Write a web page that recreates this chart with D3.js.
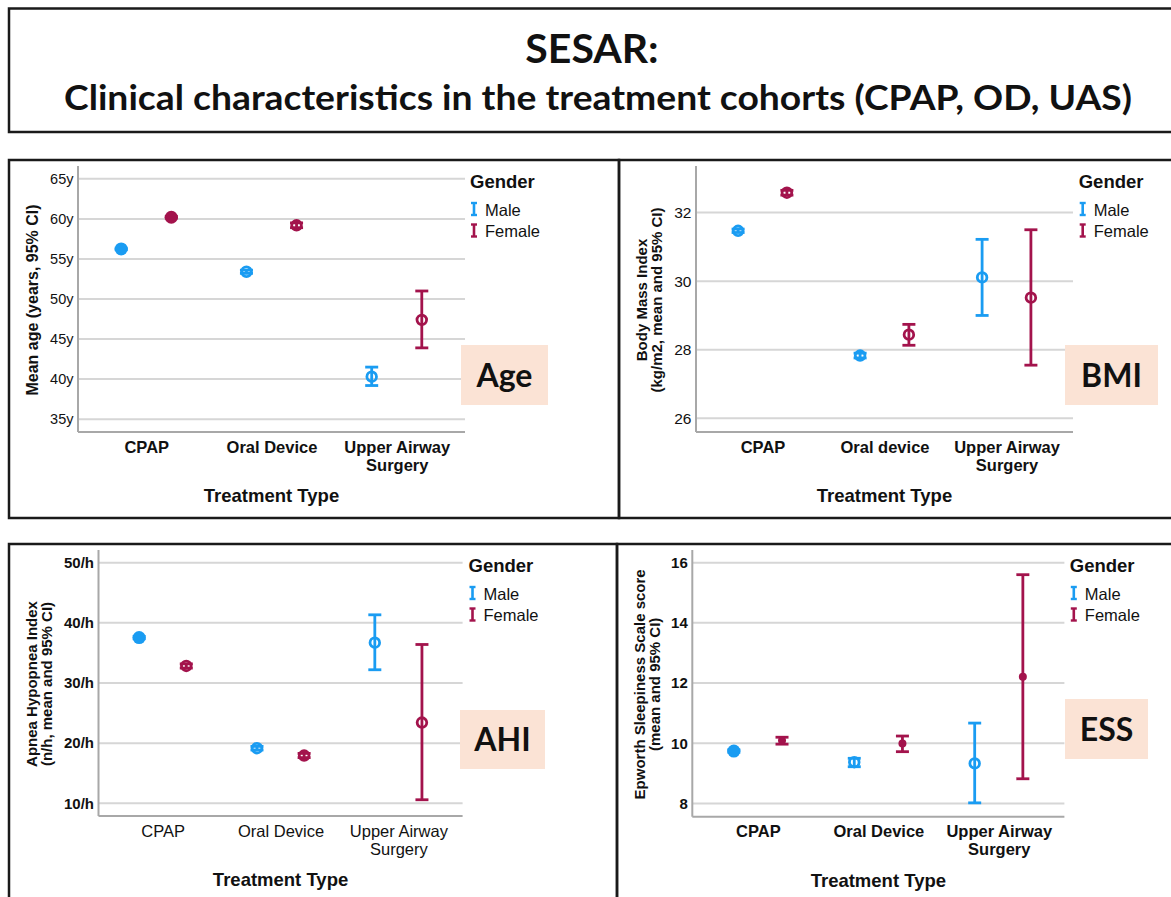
<!DOCTYPE html>
<html>
<head>
<meta charset="utf-8">
<script src="https://cdn.jsdelivr.net/npm/d3@7"></script>
<style>
  body { margin: 0; background: #fff; }
  svg { display: block; }
  .spss { font-family: "Liberation Sans", Arial, sans-serif; fill: #111; }
  .slide { font-family: Lato, "Open Sans", sans-serif; font-weight: bold; fill: #111; }
</style>
</head>
<body>
<div id="chart"></div>
<script>
  // Categories and tick labels
  var treatments = ["CPAP", "Oral Device", "Upper Airway Surgery"];
  var treatmentsBmi = ["CPAP", "Oral device", "Upper Airway Surgery"];
  var genders = ["Male", "Female"];

  var ageTicks = [35, 40, 45, 50, 55, 60, 65];
  var bmiTicks = [26, 28, 30, 32];
  var ahiTicks = [10, 20, 30, 40, 50];
  var essTicks = [8, 10, 12, 14, 16];

  // Age (years): mean, lower and upper 95% CI
  var ageMale     = [56.25, 53.4, 40.3];
  var ageMaleLo   = [56.15, 53.2, 39.2];
  var ageMaleHi   = [56.35, 53.6, 41.5];
  var ageFemale   = [60.2, 59.2, 47.4];
  var ageFemaleLo = [60.1, 58.9, 43.9];
  var ageFemaleHi = [60.3, 59.5, 51.0];

  // BMI (kg/m2)
  var bmiMale     = [31.47, 27.83, 30.11];
  var bmiMaleLo   = [31.42, 27.76, 29.0];
  var bmiMaleHi   = [31.52, 27.90, 31.22];
  var bmiFemale   = [32.58, 28.44, 29.52];
  var bmiFemaleLo = [32.51, 28.13, 27.55];
  var bmiFemaleHi = [32.65, 28.74, 31.5];

  // AHI (n/h)
  var ahiMale     = [37.55, 19.17, 36.7];
  var ahiMaleLo   = [37.35, 18.87, 32.2];
  var ahiMaleHi   = [37.75, 19.47, 41.33];
  var ahiFemale   = [32.83, 17.95, 23.43];
  var ahiFemaleLo = [32.48, 17.6, 10.6];
  var ahiFemaleHi = [33.18, 18.3, 36.4];

  // ESS score
  var essMale     = [9.74, 9.37, 9.33];
  var essMaleLo   = [9.7, 9.22, 8.02];
  var essMaleHi   = [9.78, 9.5, 10.67];
  var essFemale   = [10.09, 9.99, 12.21];
  var essFemaleLo = [9.97, 9.72, 8.82];
  var essFemaleHi = [10.2, 10.24, 15.6];

  var colors = {Male: "#1a9cf2", Female: "#a3134c"};

  var svg = d3.select("#chart").append("svg")
    .attr("width", 1171)
    .attr("height", 897);

  // Title box
  svg.append("rect")
    .attr("x", 9).attr("y", 8.5).attr("width", 1200).attr("height", 123.5)
    .attr("fill", "none").attr("stroke", "#1a1a1a").attr("stroke-width", 2.5);

  svg.append("text").attr("class", "slide")
    .attr("x", 592).attr("y", 63)
    .attr("text-anchor", "middle")
    .style("font-size", "41px")
    .text("SESAR:");

  svg.append("text").attr("class", "slide")
    .attr("x", 598).attr("y", 110)
    .attr("text-anchor", "middle")
    .attr("textLength", 1068).attr("lengthAdjust", "spacingAndGlyphs")
    .style("font-size", "34px")
    .text("Clinical characteristics in the treatment cohorts (CPAP, OD, UAS)");

  var panels = [
    {label: "Age", cats: treatments, ticks: ageTicks, fmt: function(d) { return d + "y"; },
     domain: [33.4, 66.6], frame: [9, 160, 610, 358], plot: [78, 465, 166, 432],
     yTitle: ["Mean age (years, 95% CI)"], yTitleX: [32], yTitleSize: 16, tickBold: false, tickSize: 14.5, xBold: true,
     legend: [470, 182], box: [461, 345, 87, 60], femaleDot: false,
     series: [[ageMale, ageMaleLo, ageMaleHi], [ageFemale, ageFemaleLo, ageFemaleHi]]},
    {label: "BMI", cats: treatmentsBmi, ticks: bmiTicks, fmt: function(d) { return d; },
     domain: [25.6, 33.36], frame: [619, 160, 600, 358], plot: [696, 1073, 166, 432],
     yTitle: ["Body Mass Index", "(kg/m2, mean and 95% CI)"], yTitleX: [642, 656.5], yTitleSize: 15, tickBold: false, tickSize: 15.5, xBold: true,
     legend: [1078.7, 182], box: [1065, 345, 93, 60], femaleDot: false,
     series: [[bmiMale, bmiMaleLo, bmiMaleHi], [bmiFemale, bmiFemaleLo, bmiFemaleHi]]},
    {label: "AHI", cats: treatments, ticks: ahiTicks, fmt: function(d) { return d + "/h"; },
     domain: [7.9, 52.1], frame: [9, 544, 608, 400], plot: [98.5, 462.6, 550, 816],
     yTitle: ["Apnea Hypopnea Index", "(n/h, mean and 95% CI)"], yTitleX: [31.6, 46.7], yTitleSize: 15, tickBold: true, tickSize: 15, xBold: false,
     legend: [468.5, 566], box: [460, 710, 85, 59], femaleDot: false,
     series: [[ahiMale, ahiMaleLo, ahiMaleHi], [ahiFemale, ahiFemaleLo, ahiFemaleHi]]},
    {label: "ESS", cats: treatments, ticks: essTicks, fmt: function(d) { return d; },
     domain: [7.56, 16.42], frame: [617, 544, 600, 400], plot: [692.3, 1064.4, 550, 816.7],
     yTitle: ["Epworth Sleepiness Scale score", "(mean and 95% CI)"], yTitleX: [639.3, 654.7], yTitleSize: 15, tickBold: true, tickSize: 15, xBold: true,
     legend: [1069.8, 566], box: [1065, 699, 83, 60], femaleDot: true,
     series: [[essMale, essMaleLo, essMaleHi], [essFemale, essFemaleLo, essFemaleHi]]}
  ];

  panels.forEach(drawPanel);

  function drawPanel(p) {
    var g = svg.append("g");
    var x0 = p.plot[0], x1 = p.plot[1], yTop = p.plot[2], yBottom = p.plot[3];

    // Panel frame
    g.append("rect")
      .attr("x", p.frame[0]).attr("y", p.frame[1])
      .attr("width", p.frame[2]).attr("height", p.frame[3])
      .attr("fill", "none").attr("stroke", "#1a1a1a").attr("stroke-width", 2.5);

    var x = d3.scalePoint().domain(p.cats).range([x0, x1]).padding(0.545);
    var y = d3.scaleLinear().domain(p.domain).range([yBottom, yTop]);
    var off = x.step() * 0.2;

    // Gridlines
    g.selectAll(".grid").data(p.ticks).enter().append("line")
      .attr("x1", x0).attr("x2", x1)
      .attr("y1", function(d) { return y(d); }).attr("y2", function(d) { return y(d); })
      .attr("stroke", "#d6d6d6").attr("stroke-width", 2);

    // Axis lines
    g.append("line").attr("x1", x0).attr("x2", x0).attr("y1", yTop).attr("y2", yBottom)
      .attr("stroke", "#a8a8a8").attr("stroke-width", 2);
    g.append("line").attr("x1", x0).attr("x2", x1).attr("y1", yBottom).attr("y2", yBottom)
      .attr("stroke", "#a8a8a8").attr("stroke-width", 2);

    // Y tick labels
    var yAxis = g.append("g").attr("class", "spss")
      .attr("transform", "translate(" + x0 + ",0)")
      .call(d3.axisLeft(y).tickValues(p.ticks).tickSize(0).tickPadding(4.5).tickFormat(p.fmt));
    yAxis.select(".domain").remove();
    yAxis.selectAll("text")
      .attr("fill", "#111")
      .style("font-family", "'Liberation Sans', Arial, sans-serif")
      .style("font-size", p.tickSize + "px")
      .style("font-weight", p.tickBold ? "bold" : "normal");

    // X tick labels (wrap the long one)
    var xAxis = g.append("g")
      .attr("transform", "translate(0," + yBottom + ")")
      .call(d3.axisBottom(x).tickSize(0).tickPadding(0));
    xAxis.select(".domain").remove();
    xAxis.selectAll("text").each(function(d) {
      var lines = d.indexOf("Upper Airway") === 0 ? ["Upper Airway", "Surgery"] : [d];
      var t = d3.select(this).text(null).attr("y", 0).attr("dy", null)
        .attr("fill", "#111")
        .style("font-family", "'Liberation Sans', Arial, sans-serif")
        .style("font-size", "16.5px")
        .style("font-weight", p.xBold ? "bold" : "normal");
      lines.forEach(function(l, i) {
        t.append("tspan").attr("x", 0).attr("y", 15 + i * 18).attr("dy", "0.35em").text(l);
      });
    });

    // X axis title
    g.append("text").attr("class", "spss")
      .attr("x", (x(p.cats[1]))).attr("y", yBottom + 64).attr("dy", "0.35em")
      .attr("text-anchor", "middle")
      .style("font-size", "18.5px").style("font-weight", "bold")
      .text("Treatment Type");

    // Y axis title
    var yMid = (yTop + yBottom) / 2 + 1;
    p.yTitle.forEach(function(line, i) {
      g.append("text").attr("class", "spss")
        .attr("transform", "translate(" + p.yTitleX[i] + "," + yMid + ") rotate(-90)")
        .attr("dy", "0.35em")
        .attr("text-anchor", "middle")
        .style("font-size", p.yTitleSize + "px").style("font-weight", "bold")
        .text(line);
    });

    // Error bars with means
    genders.forEach(function(gender, gi) {
      var s = p.series[gi];
      var rows = p.cats.map(function(c, i) {
        return {cat: c, mean: s[0][i], lo: s[1][i], hi: s[2][i]};
      });
      var dx = gi === 0 ? -off : off;
      var col = colors[gender];
      var bars = g.selectAll(".bar-" + gender).data(rows).enter().append("g")
        .attr("transform", function(d) { return "translate(" + (x(d.cat) + dx) + ",0)"; });

      bars.append("line")
        .attr("y1", function(d) { return y(d.lo); }).attr("y2", function(d) { return y(d.hi); })
        .attr("stroke", col).attr("stroke-width", 2.8);
      bars.append("line")
        .attr("x1", -6.5).attr("x2", 6.5)
        .attr("y1", function(d) { return y(d.lo); }).attr("y2", function(d) { return y(d.lo); })
        .attr("stroke", col).attr("stroke-width", 2.8);
      bars.append("line")
        .attr("x1", -6.5).attr("x2", 6.5)
        .attr("y1", function(d) { return y(d.hi); }).attr("y2", function(d) { return y(d.hi); })
        .attr("stroke", col).attr("stroke-width", 2.8);

      bars.append("circle")
        .attr("cy", function(d) { return y(d.mean); })
        .attr("r", function(d) {
          if (p.femaleDot && gi === 1) return 4;
          return (y(d.lo) - y(d.hi)) < 3 ? 6.5 : 4.8;
        })
        .attr("fill", function(d) {
          if (p.femaleDot && gi === 1) return col;
          return (y(d.lo) - y(d.hi)) < 3 ? col : "none";
        })
        .attr("stroke", col)
        .attr("stroke-width", function(d) {
          if (p.femaleDot && gi === 1) return 0;
          return (y(d.lo) - y(d.hi)) < 3 ? 0 : 2.8;
        });
    });

    // Legend
    var lg = g.append("g").attr("transform", "translate(" + p.legend[0] + "," + p.legend[1] + ")");
    lg.append("text").attr("class", "spss")
      .attr("x", 0).attr("y", 0).attr("dy", "0.35em")
      .style("font-size", "18.5px").style("font-weight", "bold")
      .text("Gender");
    genders.forEach(function(gender, i) {
      var yy = 28 + i * 21.5;
      var col = colors[gender];
      lg.append("line").attr("x1", 4).attr("x2", 4).attr("y1", yy - 7).attr("y2", yy + 5)
        .attr("stroke", col).attr("stroke-width", 2.6);
      lg.append("line").attr("x1", 1).attr("x2", 7).attr("y1", yy - 7).attr("y2", yy - 7)
        .attr("stroke", col).attr("stroke-width", 2.4);
      lg.append("line").attr("x1", 1).attr("x2", 7).attr("y1", yy + 5).attr("y2", yy + 5)
        .attr("stroke", col).attr("stroke-width", 2.4);
      lg.append("text").attr("class", "spss")
        .attr("x", 15).attr("y", yy).attr("dy", "0.35em")
        .style("font-size", "16.5px")
        .text(gender);
    });

    // Peach label box
    g.append("rect")
      .attr("x", p.box[0]).attr("y", p.box[1]).attr("width", p.box[2]).attr("height", p.box[3])
      .attr("fill", "#fbe3d5");
    g.append("text").attr("class", "slide")
      .attr("x", p.box[0] + p.box[2] / 2).attr("y", p.box[1] + p.box[3] / 2)
      .attr("dy", "0.36em")
      .attr("text-anchor", "middle")
      .style("font-size", "32px")
      .text(p.label);
  }
</script>
</body>
</html>
